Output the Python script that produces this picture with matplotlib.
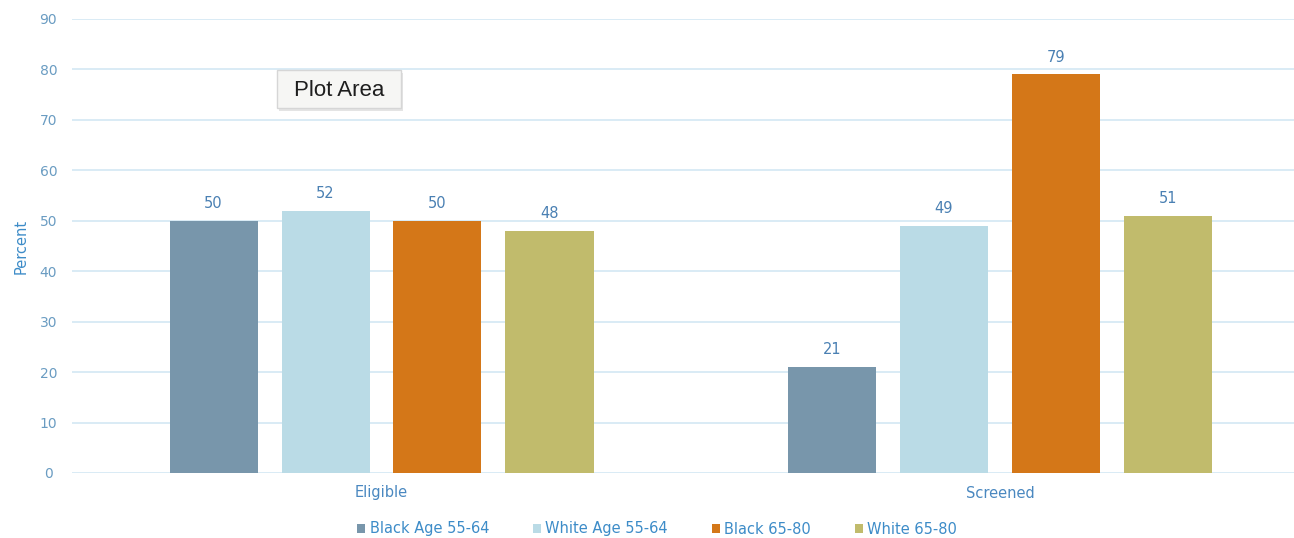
import matplotlib
matplotlib.use("Agg")
import matplotlib.pyplot as plt
from matplotlib.patches import Rectangle
import numpy as np

plt.rcParams['font.family'] = ['DejaVu Sans']

categories = ["Eligible", "Screened"]
series_names = ["Black Age 55-64", "White Age 55-64", "Black 65-80", "White 65-80"]
black_55_64 = [50, 21]
white_55_64 = [52, 49]
black_65_80 = [50, 79]
white_65_80 = [48, 51]
series_values = [black_55_64, white_55_64, black_65_80, white_65_80]
y_ticks = [0, 10, 20, 30, 40, 50, 60, 70, 80, 90]

colors = ["#7896ab", "#badbe6", "#d47718", "#c1bb6c"]
text_blue = "#3d8cc8"
grid_color = "#d3e7f3"

W, H = 1294, 538
fig = plt.figure(figsize=(W / 100, H / 100), dpi=100)
ax = fig.add_axes([72 / W, 1 - 473 / H, 1 - 72 / W, (473 - 19) / H])

x = np.arange(len(categories))
offsets = [-0.2716, -0.0905, 0.0905, 0.2716]
bar_w = 0.1423

for vals, off, col, name in zip(series_values, offsets, colors, series_names):
    bars = ax.bar(x + off, vals, width=bar_w, color=col, label=name, zorder=3)
    for b, v in zip(bars, vals):
        ax.annotate(f"{v}", (b.get_x() + b.get_width() / 2, v),
                    xytext=(0, 7), textcoords="offset points",
                    ha="center", va="bottom", fontsize=10.5, color="#4a80b3")

ax.set_xlim(-0.5004, 1.4753)
ax.set_ylim(0, 90)
ax.set_yticks(y_ticks)
ax.set_xticks(x)
ax.set_xticklabels(categories)
ax.tick_params(axis="both", length=0, labelsize=10)
ax.tick_params(axis="x", pad=9, labelcolor="#4a88c0", labelsize=10.5)
ax.tick_params(axis="y", labelcolor="#6a9cc2")
for lab in ax.get_yticklabels():
    lab.set_horizontalalignment("center")
ax.yaxis.set_tick_params(pad=17)
ax.yaxis.grid(True, color=grid_color, linewidth=1.2, zorder=0)
ax.set_axisbelow(True)
for s in ax.spines.values():
    s.set_visible(False)

ax.set_ylabel("Percent", color=text_blue, fontsize=10.5, labelpad=8)

leg = fig.legend(*ax.get_legend_handles_labels(), loc="center",
                 bbox_to_anchor=(657 / W, 1 - 529 / H),
                 ncol=4, frameon=False, fontsize=10.5,
                 handlelength=0.55, handleheight=0.55,
                 handletextpad=0.3, columnspacing=3.0, borderaxespad=0)
for t in leg.get_texts():
    t.set_color(text_blue)

# Hover tooltip box
x0, y0, bw, bh = 277, 70, 124, 38
fig.patches.append(Rectangle(((x0 + 2) / W, 1 - (y0 + bh + 3) / H), bw / W, bh / H,
                             transform=fig.transFigure, facecolor="#e4e4e4",
                             edgecolor="none", zorder=9))
fig.patches.append(Rectangle((x0 / W, 1 - (y0 + bh) / H), bw / W, bh / H,
                             transform=fig.transFigure, facecolor="#f6f6f4",
                             edgecolor="#d6d6d6", linewidth=1, zorder=10))
fig.text((x0 + bw / 2) / W, 1 - (y0 + bh / 2 + 1) / H, "Plot Area",
         ha="center", va="center", fontsize=16, color="#1e1e1e", zorder=11,
         family="Liberation Sans")

fig.savefig("out.png", dpi=100, facecolor="white")
